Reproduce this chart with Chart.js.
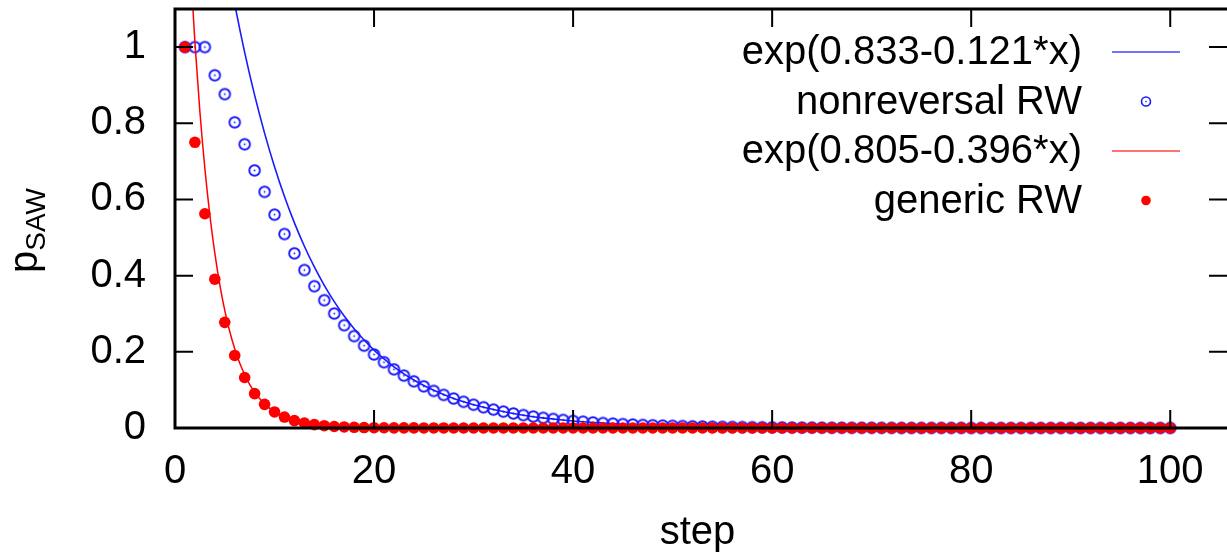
<!DOCTYPE html>
<html>
<head>
<meta charset="utf-8">
<script src="https://cdn.jsdelivr.net/npm/chart.js@4.4.1/dist/chart.umd.min.js"></script>
<style>
  html, body { margin: 0; padding: 0; background: #ffffff; }
  canvas { display: block; }
</style>
</head>
<body>
<canvas id="grafico" width="1227" height="553"></canvas>
<script>
// pasos (eje x)
const steps = [1,2,3,4,5,6,7,8,9,10,11,12,13,14,15,16,17,18,19,20,
  21,22,23,24,25,26,27,28,29,30,31,32,33,34,35,36,37,38,39,40,
  41,42,43,44,45,46,47,48,49,50,51,52,53,54,55,56,57,58,59,60,
  61,62,63,64,65,66,67,68,69,70,71,72,73,74,75,76,77,78,79,80,
  81,82,83,84,85,86,87,88,89,90,91,92,93,94,95,96,97,98,99,100];

// generic RW (puntos rojos)
const genericRW = [1, 0.75, 0.5625, 0.3906, 0.2773, 0.1904, 0.1326, 0.0903, 0.0621, 0.0421,
  0.0287, 0.0194, 0.0131, 0.0089, 0.0060, 0.0040, 0.0027, 0.0018, 0.0012, 0.0008,
  0.0006, 0.0004, 0.0003, 0.0002, 0.0001, 0.0001, 0.0001, 0, 0, 0,
  0, 0, 0, 0, 0, 0, 0, 0, 0, 0,
  0, 0, 0, 0, 0, 0, 0, 0, 0, 0,
  0, 0, 0, 0, 0, 0, 0, 0, 0, 0,
  0, 0, 0, 0, 0, 0, 0, 0, 0, 0,
  0, 0, 0, 0, 0, 0, 0, 0, 0, 0,
  0, 0, 0, 0, 0, 0, 0, 0, 0, 0,
  0, 0, 0, 0, 0, 0, 0, 0, 0, 0];

// nonreversal RW (circulos azules)
const nonreversalRW = [1, 1, 1, 0.926, 0.8765, 0.8025, 0.7449, 0.6763, 0.6199, 0.5601,
  0.5093, 0.4586, 0.4147, 0.3723, 0.3354, 0.3005, 0.2699, 0.2413, 0.2162, 0.1931,
  0.1727, 0.1540, 0.1376, 0.1225, 0.1093, 0.0974, 0.0868, 0.0773, 0.0688, 0.0612,
  0.0544, 0.0484, 0.0430, 0.0382, 0.0339, 0.0301, 0.0267, 0.0237, 0.0211, 0.0187,
  0.0166, 0.0147, 0.0130, 0.0115, 0.0102, 0.0091, 0.0080, 0.0071, 0.0063, 0.0056,
  0.0050, 0.0044, 0.0039, 0.0034, 0.0030, 0.0027, 0.0024, 0.0021, 0.0019, 0.0017,
  0.0015, 0.0013, 0.0011, 0.0010, 0.0009, 0.0008, 0.0007, 0.0006, 0.0005, 0.0005,
  0.0004, 0.0004, 0.0003, 0.0003, 0.0003, 0.0002, 0.0002, 0.0002, 0.0002, 0.0001,
  0.0001, 0.0001, 0.0001, 0.0001, 0.0001, 0.0001, 0.0001, 0.0001, 0.0001, 0.0001,
  0, 0, 0, 0, 0, 0, 0, 0, 0, 0];

// curva exp(0.805-0.396*x)
const fitGenericX = [0, 1, 1.5, 2, 2.5, 3, 3.5, 4, 4.5, 5, 5.5, 6, 6.5, 7, 7.5, 8, 8.5, 9, 9.5, 10,
  11, 12, 13, 14, 15, 16, 17, 18, 19, 20, 105];
const fitGenericY = [2.237, 1.505, 1.235, 1.013, 0.831, 0.6818, 0.5593, 0.4589, 0.3764, 0.3088,
  0.2533, 0.2078, 0.1705, 0.1399, 0.1148, 0.0941, 0.0772, 0.0634, 0.0520, 0.0426,
  0.0287, 0.0193, 0.0130, 0.0087, 0.0059, 0.0040, 0.0027, 0.0018, 0.0012, 0.0008, 0];

// curva exp(0.833-0.121*x)
const fitNonrevX = [0, 1, 2, 3, 4, 5, 6, 7, 8, 9, 10, 11, 12, 13, 14, 15, 16, 17, 18, 19, 20,
  21, 22, 23, 24, 25, 26, 27, 28, 29, 30, 35, 40, 45, 50, 55, 60, 70, 80, 90, 105];
const fitNonrevY = [2.300, 2.038, 1.806, 1.600, 1.418, 1.256, 1.113, 0.9862, 0.8738, 0.7742, 0.6860,
  0.6078, 0.5385, 0.4771, 0.4228, 0.3746, 0.3319, 0.2941, 0.2606, 0.2309, 0.2046,
  0.1812, 0.1606, 0.1423, 0.1261, 0.1117, 0.0990, 0.0877, 0.0777, 0.0688, 0.0610,
  0.0333, 0.0182, 0.00995, 0.00543, 0.00297, 0.00162, 0.00048, 0.000145, 0.00004, 0.000007];

const xTicks = [0, 20, 40, 60, 80, 100];
const yTicks = [0, 0.2, 0.4, 0.6, 0.8, 1];

const FONT = "'Liberation Sans', Arial, Helvetica, sans-serif";
const AZUL = "#1a1aff";
const ROJO = "#ff0000";

// marcador circulo con punto central (como gnuplot)
function circuloAzul(r, w) {
    const c = document.createElement("canvas");
    const s = Math.ceil(r * 2 + 4);
    c.width = s; c.height = s;
    const g = c.getContext("2d");
    g.strokeStyle = AZUL;
    g.lineWidth = w;
    g.beginPath();
    g.arc(s / 2, s / 2, r, 0, Math.PI * 2);
    g.stroke();
    g.fillStyle = AZUL;
    g.beginPath();
    g.arc(s / 2, s / 2, 0.9, 0, Math.PI * 2);
    g.fill();
    return c;
}
const marcadorAzul = circuloAzul(5.3, 1.9);

function pares(xs, ys) {
    return xs.map((x, i) => ({ x: x, y: ys[i] }));
}

// leyenda, marco y etiqueta del eje y dibujados a mano
const extras = {
    id: "extras",
    afterDatasetsDraw(chart) {
        const ctx = chart.ctx;
        const area = chart.chartArea;
        const xs = chart.scales.x, ys = chart.scales.y;
        const L = area.left, T = area.top, B = area.bottom, R = chart.width + 1;
        ctx.save();

        // marco
        ctx.strokeStyle = "#000";
        ctx.lineWidth = 3;
        ctx.beginPath();
        ctx.moveTo(R, T); ctx.lineTo(L, T); ctx.lineTo(L, B); ctx.lineTo(R, B);
        ctx.stroke();

        // marcas hacia dentro
        ctx.lineWidth = 2;
        ctx.beginPath();
        xTicks.forEach(v => {
            const px = xs.getPixelForValue(v);
            ctx.moveTo(px, B); ctx.lineTo(px, B - 18);
            ctx.moveTo(px, T); ctx.lineTo(px, T + 18);
        });
        yTicks.forEach(v => {
            const py = ys.getPixelForValue(v);
            ctx.moveTo(L, py); ctx.lineTo(L + 18, py);
            ctx.moveTo(R, py); ctx.lineTo(R - 19, py);
        });
        ctx.stroke();

        // leyenda
        const filas = [
            { texto: "exp(0.833-0.121*x)", tipo: "linea", color: "rgba(40,40,255,0.65)" },
            { texto: "nonreversal RW", tipo: "circulo" },
            { texto: "exp(0.805-0.396*x)", tipo: "linea", color: "rgba(255,40,40,0.65)" },
            { texto: "generic RW", tipo: "punto" }
        ];
        ctx.font = "40px " + FONT;
        ctx.fillStyle = "#000";
        ctx.textAlign = "right";
        ctx.textBaseline = "middle";
        filas.forEach((f, i) => {
            const y = 52 + i * 49.5;
            ctx.fillText(f.texto, 1082, y + 1);
            if (f.tipo === "linea") {
                ctx.strokeStyle = f.color;
                ctx.lineWidth = 2;
                ctx.beginPath();
                ctx.moveTo(1112, y); ctx.lineTo(1180, y);
                ctx.stroke();
            } else if (f.tipo === "circulo") {
                ctx.strokeStyle = AZUL;
                ctx.lineWidth = 1.6;
                ctx.beginPath(); ctx.arc(1146, y, 4.5, 0, Math.PI * 2); ctx.stroke();
                ctx.fillStyle = AZUL;
                ctx.beginPath(); ctx.arc(1146, y, 0.8, 0, Math.PI * 2); ctx.fill();
                ctx.fillStyle = "#000";
            } else {
                ctx.fillStyle = ROJO;
                ctx.beginPath(); ctx.arc(1146, y, 4.8, 0, Math.PI * 2); ctx.fill();
                ctx.fillStyle = "#000";
            }
        });

        // etiqueta del eje y: p con subindice SAW
        ctx.translate(37, (T + B) / 2 + 12);
        ctx.rotate(-Math.PI / 2);
        ctx.textAlign = "left";
        ctx.textBaseline = "alphabetic";
        ctx.font = "40px " + FONT;
        const wp = ctx.measureText("p").width;
        ctx.font = "28px " + FONT;
        const ws = ctx.measureText("SAW").width;
        const x0 = -(wp + ws) / 2;
        ctx.font = "40px " + FONT;
        ctx.fillText("p", x0, 0);
        ctx.font = "28px " + FONT;
        ctx.fillText("SAW", x0 + wp, 8);
        ctx.restore();
    }
};

const ctx = document.getElementById("grafico").getContext("2d");

new Chart(ctx, {
    type: "scatter",
    data: {
        datasets: [
            {
                label: "generic RW",
                data: pares(steps, genericRW),
                backgroundColor: ROJO,
                borderWidth: 0,
                pointRadius: 5.8,
                showLine: false,
                clip: false,
                order: 0
            },
            {
                label: "exp(0.805-0.396*x)",
                data: pares(fitGenericX, fitGenericY),
                borderColor: ROJO,
                borderWidth: 1.5,
                pointRadius: 0,
                showLine: true,
                cubicInterpolationMode: "monotone",
                order: 1
            },
            {
                label: "nonreversal RW",
                data: pares(steps, nonreversalRW),
                pointStyle: marcadorAzul,
                pointRadius: 6,
                showLine: false,
                clip: false,
                order: 2
            },
            {
                label: "exp(0.833-0.121*x)",
                data: pares(fitNonrevX, fitNonrevY),
                borderColor: AZUL,
                borderWidth: 1.6,
                pointRadius: 0,
                showLine: true,
                cubicInterpolationMode: "monotone",
                order: 3
            }
        ]
    },
    options: {
        responsive: false,
        animation: false,
        events: [],
        layout: { padding: { top: 9, left: 0, right: 0, bottom: 0 } },
        plugins: {
            legend: { display: false },
            tooltip: { enabled: false },
            title: { display: false }
        },
        scales: {
            x: {
                type: "linear",
                min: 0,
                max: 105,
                afterBuildTicks: s => { s.ticks = xTicks.map(v => ({ value: v })); },
                afterFit: s => {
                    s.height = 125;
                    s.paddingLeft = 0; s.paddingRight = 0;
                },
                grid: { display: false, drawTicks: false },
                border: { display: false },
                ticks: {
                    color: "#000",
                    padding: 20,
                    maxRotation: 0,
                    font: { family: FONT, size: 40 },
                    callback: v => String(v)
                },
                title: {
                    display: true,
                    text: "step",
                    color: "#000",
                    font: { family: FONT, size: 40, lineHeight: 1 },
                    padding: { top: 0, bottom: 0 }
                }
            },
            y: {
                type: "linear",
                min: 0,
                max: 1.1,
                afterBuildTicks: s => { s.ticks = yTicks.map(v => ({ value: v })); },
                afterFit: s => {
                    s.width = 175;
                    s.paddingTop = 0; s.paddingBottom = 0;
                },
                grid: { display: false, drawTicks: false },
                border: { display: false },
                ticks: {
                    color: "#000",
                    padding: 29,
                    font: { family: FONT, size: 40 },
                    callback: v => String(v)
                }
            }
        }
    },
    plugins: [extras]
});
</script>
</body>
</html>
